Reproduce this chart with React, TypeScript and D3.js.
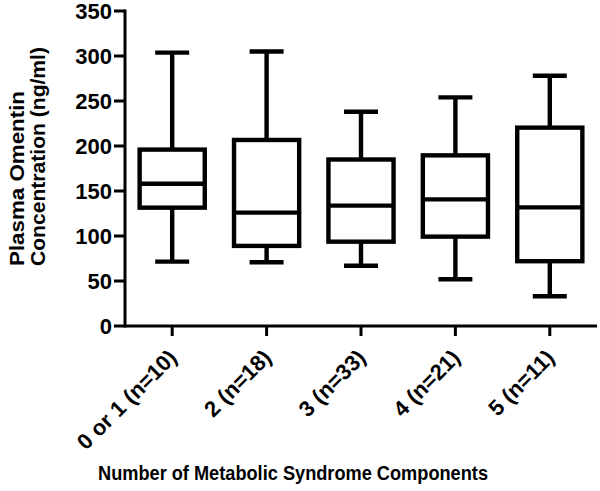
import React from "react";
import * as d3 from "d3";

const categories = ["0 or 1 (n=10)", "2 (n=18)", "3 (n=33)", "4 (n=21)", "5 (n=11)"];
const whiskerLow = [71.5, 70.8, 67, 52, 33];
const q1Values = [131.5, 89, 93.7, 99.3, 72];
const medianValues = [158, 126, 133.7, 140.7, 131.8];
const q3Values = [196, 206.7, 185, 189.6, 220.4];
const whiskerHigh = [303.7, 305, 238, 254, 278];
const yTicks = [0, 50, 100, 150, 200, 250, 300, 350];

const W = 600;
const H = 491;
const FONT = "'Liberation Sans', Arial, Helvetica, sans-serif";

export default function App() {
  const y = d3.scaleLinear().domain([0, 350]).range([326, 11]);
  const x = d3.scaleBand<string>().domain(categories).range([125, 597]).padding(0);
  const bw = x.bandwidth();
  const boxW = bw * 0.69;
  const capW = bw * 0.36;
  const sw = 4.4;

  return (
    <svg
      width={W}
      height={H}
      style={{ position: "absolute", left: 0, top: 0, background: "#fff" }}
      fontFamily={FONT}
      fontWeight="bold"
    >
      <rect x={0} y={0} width={W} height={H} fill="#fff" />
      {/* y axis */}
      <line x1={125} x2={125} y1={y(350) - 1.5} y2={y(0) + 1.5} stroke="#000" strokeWidth={3} />
      {yTicks.map((t) => (
        <g key={t}>
          <line x1={114} x2={125} y1={y(t)} y2={y(t)} stroke="#000" strokeWidth={3} />
          <text x={112} y={y(t)} dy="0.36em" textAnchor="end" fontSize={22}>
            {t}
          </text>
        </g>
      ))}
      {/* x axis */}
      <line x1={125} x2={597} y1={y(0)} y2={y(0)} stroke="#000" strokeWidth={3} />
      {categories.map((c) => {
        const cx = (x(c) as number) + bw / 2;
        return (
          <g key={c}>
            <line x1={cx} x2={cx} y1={y(0)} y2={y(0) + 10} stroke="#000" strokeWidth={3} />
            <text
              transform={`translate(${cx + 6},${y(0) + 33}) rotate(-45)`}
              textAnchor="end"
              fontSize={22}
            >
              {c}
            </text>
          </g>
        );
      })}
      {/* boxes */}
      {categories.map((c, i) => {
        const cx = (x(c) as number) + bw / 2;
        return (
          <g key={"b" + c} stroke="#000" strokeWidth={sw} fill="none">
            <line x1={cx} x2={cx} y1={y(whiskerHigh[i])} y2={y(q3Values[i])} />
            <line x1={cx} x2={cx} y1={y(q1Values[i])} y2={y(whiskerLow[i])} />
            <line x1={cx - capW / 2} x2={cx + capW / 2} y1={y(whiskerHigh[i])} y2={y(whiskerHigh[i])} />
            <line x1={cx - capW / 2} x2={cx + capW / 2} y1={y(whiskerLow[i])} y2={y(whiskerLow[i])} />
            <rect
              x={cx - boxW / 2}
              y={y(q3Values[i])}
              width={boxW}
              height={y(q1Values[i]) - y(q3Values[i])}
            />
            <line x1={cx - boxW / 2} x2={cx + boxW / 2} y1={y(medianValues[i])} y2={y(medianValues[i])} />
          </g>
        );
      })}
      {/* y title */}
      <text transform="translate(24,266) rotate(-90)" fontSize={21} textLength={175} lengthAdjust="spacingAndGlyphs">
        Plasma Omentin
      </text>
      <text transform="translate(45,266) rotate(-90)" fontSize={21} textLength={219} lengthAdjust="spacingAndGlyphs">
        Concentration (ng/ml)
      </text>
      {/* x title */}
      <text x={98} y={480} fontSize={20} textLength={390} lengthAdjust="spacingAndGlyphs">
        Number of Metabolic Syndrome Components
      </text>
    </svg>
  );
}
